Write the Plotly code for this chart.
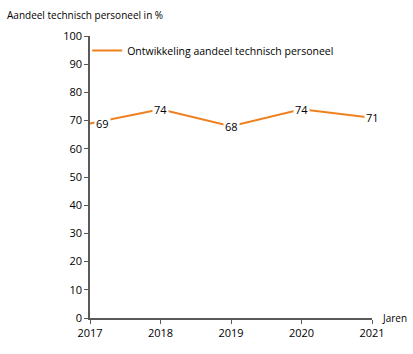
import plotly.graph_objects as go

years = [2017, 2018, 2019, 2020, 2021]
values = [69, 74, 68, 74, 71]
series_name = "Ontwikkeling aandeel technisch personeel"
y_title = "Aandeel technisch personeel in %"
x_title = "Jaren"
y_ticks = list(range(0, 101, 10))

orange = "#F07F1E"
axis_col = "#595959"
font = "Open Sans"

fig = go.Figure()
fig.add_trace(go.Scatter(
    x=years, y=values, mode="lines", name=series_name,
    line=dict(color=orange, width=2), showlegend=True,
))

for i, (x, v) in enumerate(zip(years, values)):
    fig.add_annotation(
        x=x, y=v, text=str(v), showarrow=False, bgcolor="white",
        font=dict(family=font, size=11, color="#000"),
        xshift=12 if i == 0 else 0, borderpad=1,
    )

fig.add_annotation(xref="paper", yref="paper", x=1.03, y=0, text=x_title,
                   showarrow=False, xanchor="left", yanchor="middle",
                   font=dict(family=font, size=10, color="#000"))
fig.add_annotation(xref="paper", yref="paper", x=-0.3, y=1.0, yshift=12,
                   text=y_title, showarrow=False, xanchor="left", yanchor="bottom",
                   font=dict(family=font, size=10, color="#000"))

fig.update_layout(
    width=413, height=354,
    margin=dict(l=90, r=41, t=36, b=36),
    paper_bgcolor="white", plot_bgcolor="white",
    font=dict(family=font, size=11, color="#000"),
    legend=dict(x=-0.01, y=1.0, xanchor="left", yanchor="top",
                bgcolor="rgba(0,0,0,0)", itemwidth=30,
                font=dict(family=font, size=10.5, color="#000")),
    xaxis=dict(range=[2017, 2021], tickvals=years, ticktext=[str(y) for y in years],
               showgrid=False, zeroline=False, showline=True, linecolor=axis_col,
               linewidth=1.5, ticks="outside", ticklen=4, tickcolor=axis_col,
               tickfont=dict(family=font, size=11)),
    yaxis=dict(range=[0, 100], tickvals=y_ticks, showgrid=False, zeroline=False,
               showline=True, linecolor=axis_col, linewidth=1.5, ticks="outside",
               ticklen=4, tickcolor=axis_col, tickfont=dict(family=font, size=11)),
)

fig.write_html("out.html")
